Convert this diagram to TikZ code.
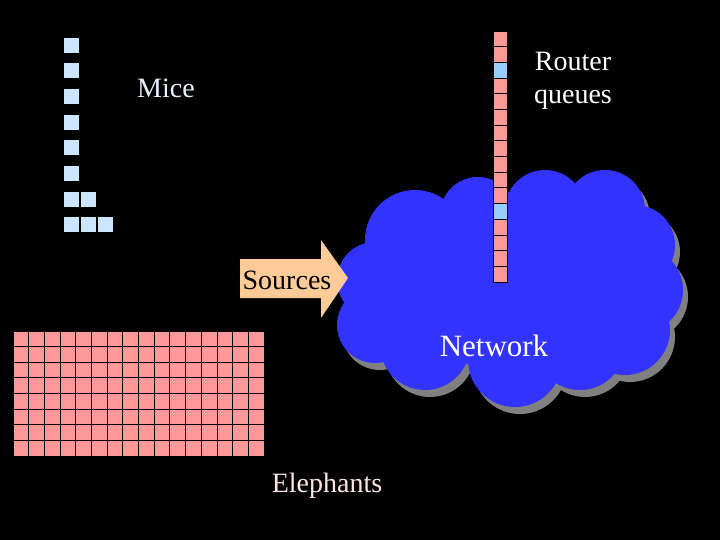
\documentclass[tikz,border=0pt]{standalone}
\usepackage{fontspec}
\setmainfont{Liberation Serif}
\definecolor{mousecol}{HTML}{CCE6FF}
\definecolor{qblue}{HTML}{99CCFF}
\definecolor{pinkcol}{HTML}{FF9999}
\definecolor{cloudcol}{HTML}{3333FF}
\definecolor{shadowcol}{HTML}{808080}
\definecolor{arrowcol}{HTML}{FFCC99}
\definecolor{micetext}{HTML}{E6F2FF}
\definecolor{eletext}{HTML}{FFE6E6}
\begin{document}
\begin{tikzpicture}[x=1pt,y=-1pt,
  lbl/.style={font=\fontsize{28}{33}\selectfont, inner sep=0pt, align=center},
  cellline/.style={draw=black, line width=0.8pt}]
\fill[black] (0,0) rectangle (720,540);
\useasboundingbox (0,0) rectangle (720,540);
% cloud shadow
\foreach \a/\b/\r in {415/240/50, 478/215/38, 545/210/40, 605/210/40, 635/245/40, 640/290/43, 625/330/45, 580/345/45, 515/360/47, 425/345/45, 375/325/38, 375/280/38, 510/285/90, 460/290/70, 580/280/80}
  \fill[shadowcol] (\a+5,\b+7) circle[radius=\r pt];
% cloud
\foreach \a/\b/\r in {415/240/50, 478/215/38, 545/210/40, 605/210/40, 635/245/40, 640/290/43, 625/330/45, 580/345/45, 515/360/47, 425/345/45, 375/325/38, 375/280/38, 510/285/90, 460/290/70, 580/280/80}
  \fill[cloudcol] (\a,\b) circle[radius=\r pt];
% router queue
\foreach \i in {0,...,15} {
  \pgfmathsetmacro{\yy}{31+15.69*\i}
  \ifnum\i=2 \def\qc{qblue}\else\ifnum\i=11 \def\qc{qblue}\else\def\qc{pinkcol}\fi\fi
  \filldraw[fill=\qc, cellline] (493,\yy) rectangle (507,\yy+15.69);
}
% mice
\foreach \i in {0,...,7}
  \filldraw[fill=mousecol, cellline] (63,37+25.7*\i) rectangle (79,53+25.7*\i);
\filldraw[fill=mousecol, cellline] (80,37+25.7*6) rectangle (96,53+25.7*6);
\filldraw[fill=mousecol, cellline] (80,37+25.7*7) rectangle (96,53+25.7*7);
\filldraw[fill=mousecol, cellline] (97,37+25.7*7) rectangle (113,53+25.7*7);
% elephants
\fill[pinkcol] (13,331) rectangle (264,456);
\foreach \i in {0,...,16}
  \draw[cellline] (13+15.6875*\i,331) -- (13+15.6875*\i,456);
\foreach \j in {0,...,8}
  \draw[cellline] (13,331+15.625*\j) -- (264,331+15.625*\j);
% arrow
\fill[arrowcol] (240,259) -- (321,259) -- (321,240) -- (348,278) -- (321,318) -- (321,298) -- (240,298) -- cycle;
% labels
\node[lbl, text=micetext] (mice) at (166,88) {Mice};
\node[lbl, text=white] (router) at (573,81) {Router\\queues};
\node[lbl, text=black] (sources) at (287,280) {Sources};
\node[lbl, text=white, font=\fontsize{31}{36}\selectfont] (network) at (494,346) {Network};
\node[lbl, text=eletext] (elephants) at (327,486) {Elephants};
\end{tikzpicture}
\end{document}
